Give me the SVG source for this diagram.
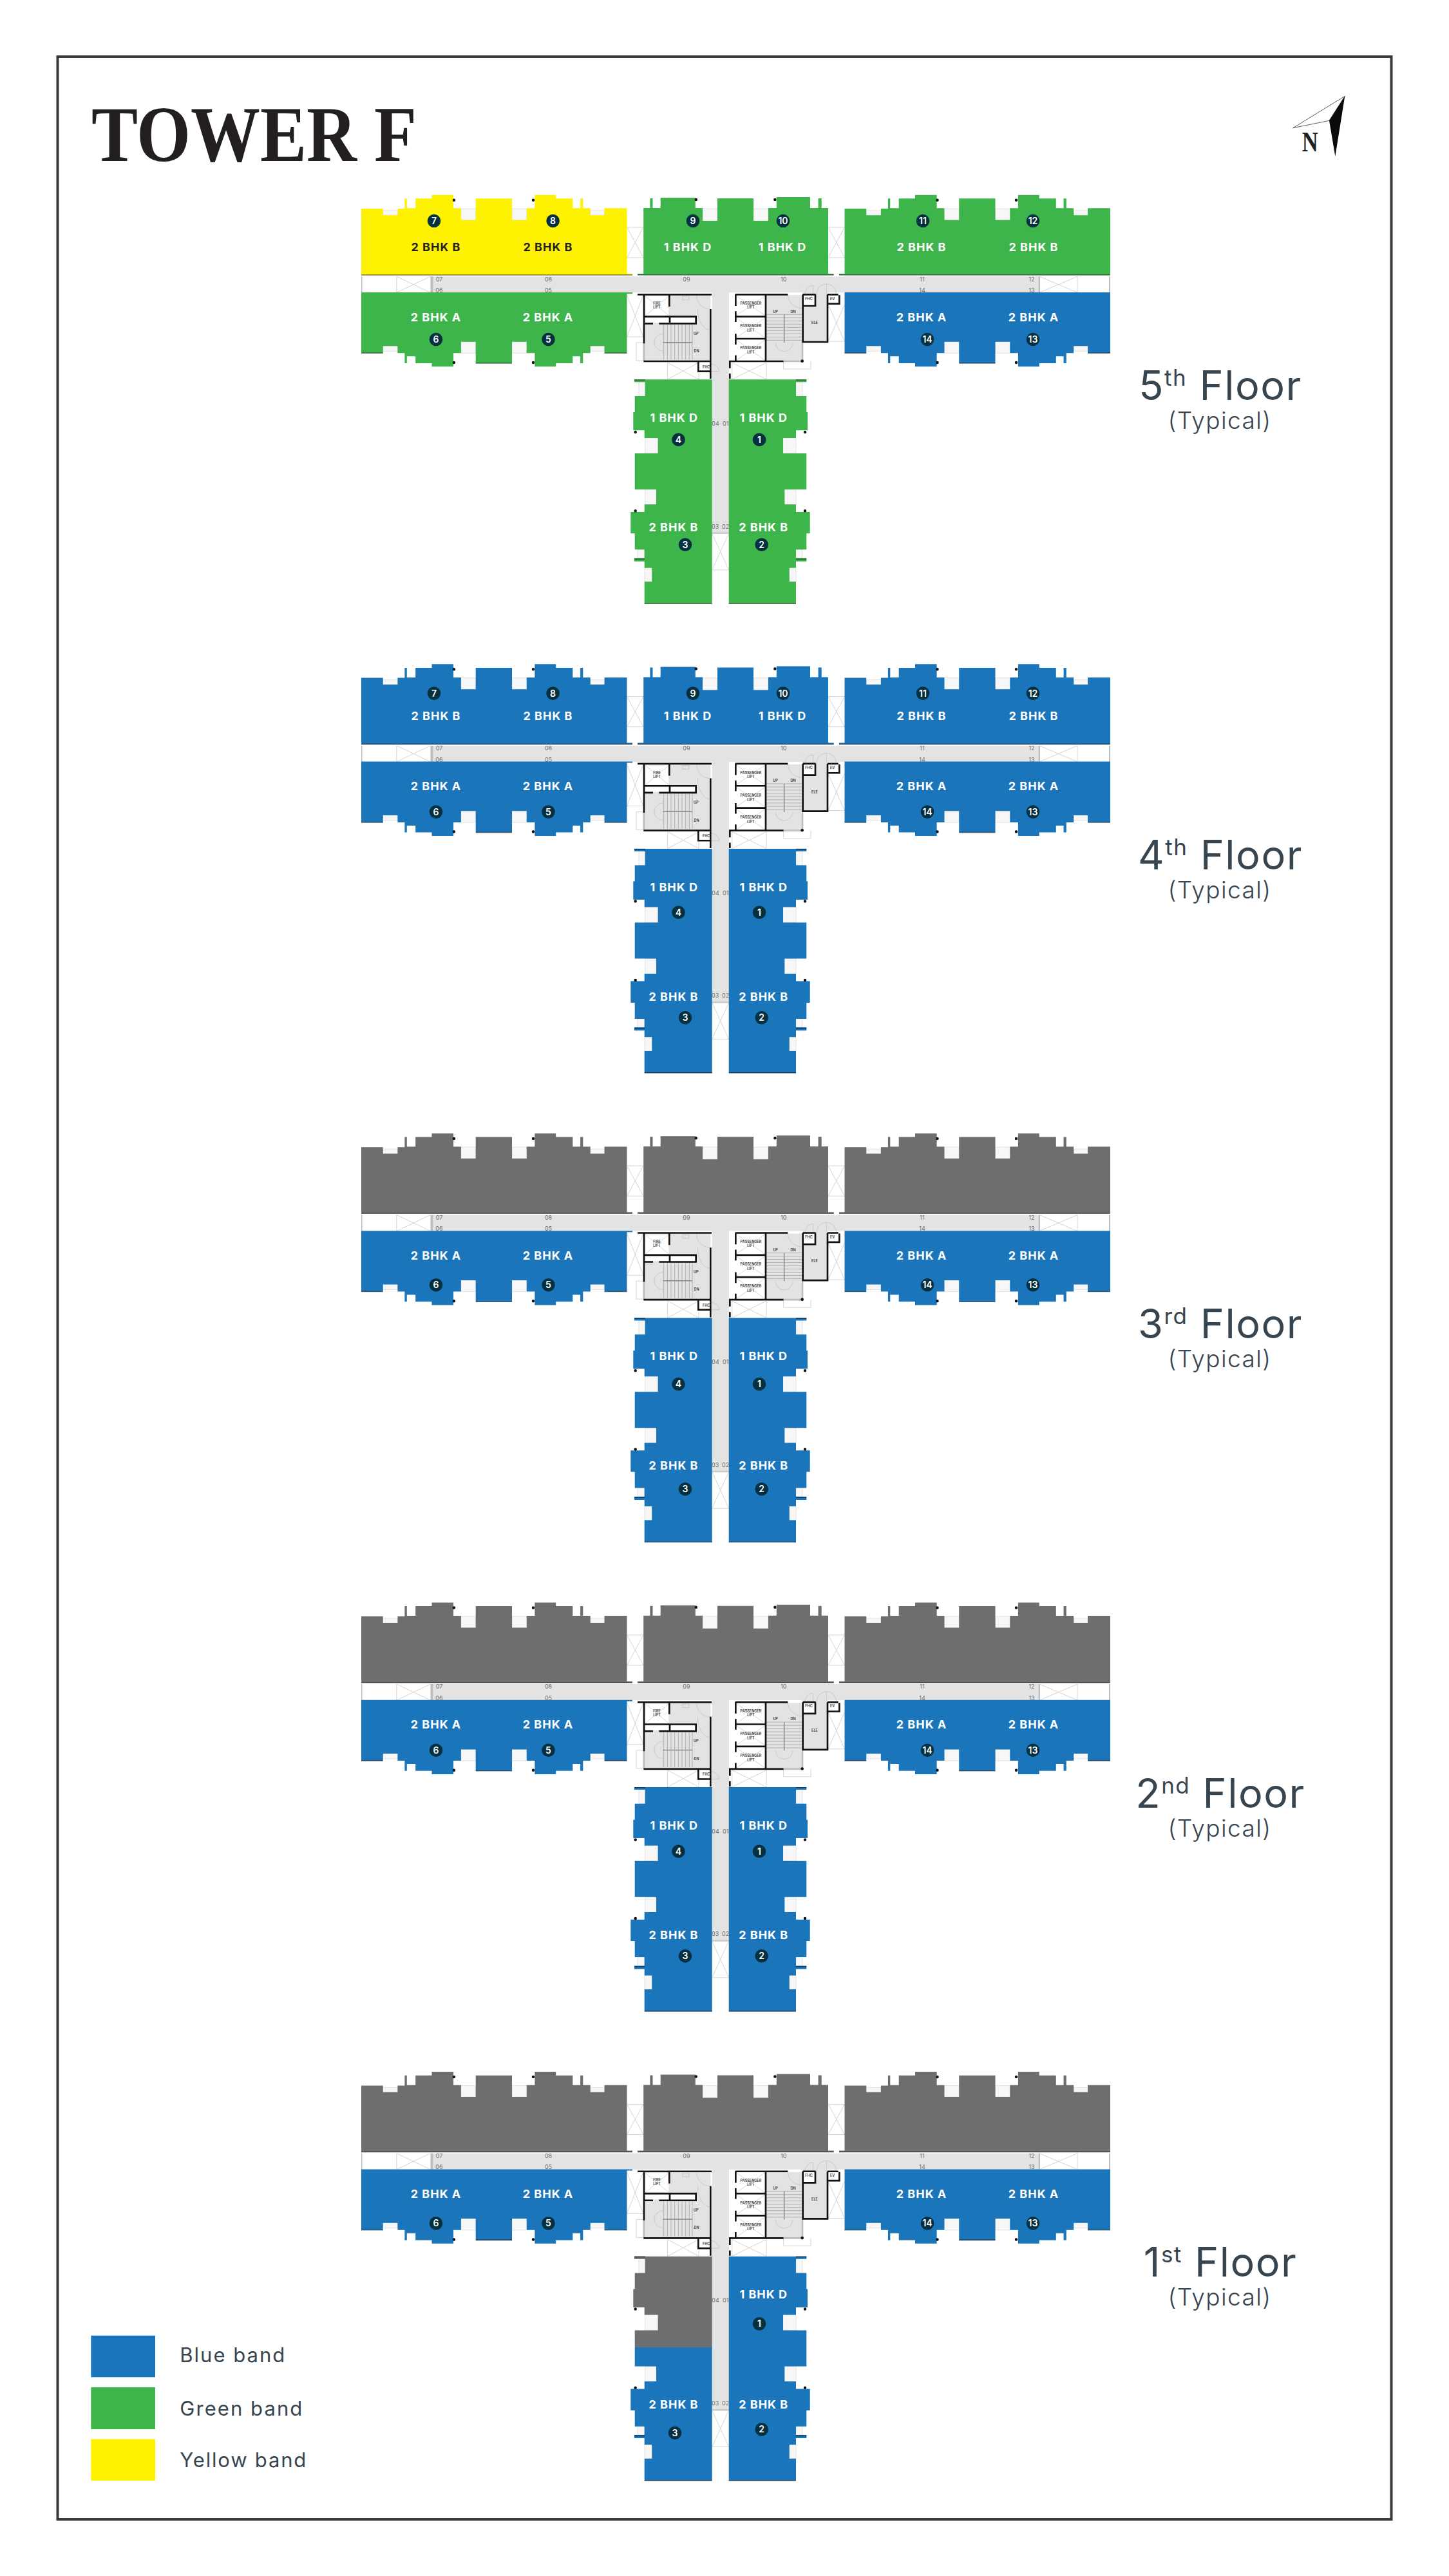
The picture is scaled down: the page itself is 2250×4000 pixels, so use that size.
<svg xmlns="http://www.w3.org/2000/svg" width="2250" height="4000" viewBox="0 0 2250 4000">
<style>
text{font-family:Inter,"Noto Sans","Liberation Sans",sans-serif}
.b{fill:#1a75bb}.g{fill:#3db54a}.y{fill:#fff200}.k{fill:#6d6e70}
.u{fill:#fff;font-size:18px;font-weight:700;letter-spacing:1px;text-anchor:middle}
.ud{fill:#231f20;font-size:18px;font-weight:700;letter-spacing:1px;text-anchor:middle}
.c{fill:#05303f}
.n{fill:#fff;font-size:14px;font-weight:600;text-anchor:middle}
.d{fill:#6f6f6f;font-size:9px;text-anchor:middle}
.m{fill:#333;font-size:5.5px;font-weight:600;text-anchor:middle}
.f{fill:#36454f;font-size:63px;letter-spacing:1.5px;text-anchor:middle}
.fs{font-size:35px}
.fn{fill:#36454f;font-size:37px;font-weight:300;letter-spacing:1.4px;text-anchor:middle}
.l{fill:#36454f;font-size:31px}
.thin{fill:none;stroke:#d4d4d4;stroke-width:1}
.wall{fill:none;stroke:#111;stroke-width:8}
.cthin{fill:none;stroke:#b4b4b4;stroke-width:1.6}
.cdark{fill:none;stroke:#8f8f8f;stroke-width:1.8}
.cg{fill:#e3e3e4}
</style>
<defs>
<path id="wTL" d="M561 427V324H594.7V334.3H617.4V324H628.4V308.3H631.8V323.3H645.2V308.3H670.5V302.7H704.1V323.3H715.9V341.7H738.7V308.3H795V341.7H817.8V323.3H830.4V302.7H863.2V308.3H889.3V323.3H901.1V308.3H905.3V323.3H916.7V334.3H938.6V323.3H973.5V425H982V427Z"/>
<path id="wTC" d="M990 427V425H999.2V323H1009.4V308H1013.5V323H1025.7V307H1079.8V323H1091V343H1114V308H1170V343H1193V323H1205.8V306H1258V308H1258V323H1270.6V308H1275.7V323H1286V425H1294.7V427Z"/>
<path id="wTR" d="M1303 427V425H1311.5V324H1345.2V334.3H1367.9V324H1378.9V308.3H1382.3V323.3H1395.7V308.3H1421V302.7H1454.6V323.3H1466.4V341.7H1489.2V308.3H1545.5V341.7H1568.3V323.3H1580.9V302.7H1613.7V308.3H1639.8V323.3H1651.6V308.3H1655.8V323.3H1667.2V334.3H1689.1V323.3H1724V427Z"/>
<path id="wBL" d="M561 454H982V456H973.5V548.3H938.6V537.3H916.7V548.3H905.3V564H901.1V553.3H889.3V564H863.2V569.3H830.4V548.3H817.8V530.7H795V564H738.7V530.7H715.9V548.3H704.1V569.3H670.5V564H645.2V553.3H631.8V564H628.4V548.3H617.4V537.3H594.7V548.3H561Z"/>
<path id="wBR" d="M1311.5 454H1724V548.3H1689.1V537.3H1667.2V548.3H1655.8V564H1651.6V553.3H1639.8V564H1613.7V569.3H1580.9V548.3H1568.3V530.7H1545.5V564H1489.2V530.7H1466.4V548.3H1454.6V569.3H1421V564H1395.7V553.3H1382.3V564H1378.9V548.3H1367.9V537.3H1345.2V548.3H1311.5Z"/>
<path id="wSL" d="M985 589.3H1105.7V937.3H1000.7V903.3H1012.3V881.7H1000.7V871.7H985V866.7H1000.7V853.3H985.7V828.3H979.3V795H1000.7V783.3H1019V760H985.7V704H1021.7V680H1000.7V668.3H983.3V640H985.7V615H1001.7V593.3H985Z"/>
<path id="wSR" d="M1131.7 589.3H1252.3V593.3H1236V615H1252.3V640H1254V668.3H1236V680H1216V704H1252.3V760H1218.3V783.3H1236V795H1257.7V828.3H1252.3V853.3H1236V866.7H1252.3V871.7H1236V881.7H1225.7V903.3H1236V937.3H1131.7Z"/>
<path id="wSLa" d="M985 589.3H1105.7V730.7H985.7V704H1021.7V680H1000.7V668.3H983.3V640H985.7V615H1001.7V593.3H985Z"/>
<path id="wSLb" d="M985.7 730.7H1105.7V937.3H1000.7V903.3H1012.3V881.7H1000.7V871.7H985V866.7H1000.7V853.3H985.7V828.3H979.3V795H1000.7V783.3H1019V760H985.7Z"/>
<g id="plan">
<path d="M672.6 429.3H1612.5V454.3H1132V828.3H1105.7V454.3H672.6Z" class="cg"/>
<path d="M668.5 429.3h4.1v25h-4.1zM1612.5 429.3h2.5v25h-2.5zM561 429.3h1.5v25H561zM1722 429.3h2v25h-2z" fill="#bdbdbd"/>
<rect x="1105.7" y="826.5" width="26.3" height="2.5" fill="#c9c9c9"/>
<path class="thin" d="M615.8 429.3V454.3M615.8 429.3L668.4 454.3M668.4 429.3L615.8 454.3M1614 429.3L1673 454.3M1673 429.3L1614 454.3M1673 429.3V454.3M973.5 353H999M973.5 400H999M973.5 353L999 400M999 353L973.5 400M1286 353H1311.5M1286 400H1311.5M1286 353L1311.5 400M1311.5 353L1286 400M973.5 458L999 523M999 458L973.5 523M973.5 523H999M1286 473L1311.5 530M1311.5 473L1286 530M1280 530H1311.5M988 532H999V560H988ZM1036.7 563V589M1085 563V589M1036.7 563L1085 589M1085 563L1036.7 589M1136.7 563V589M1190 563V589M1136.7 563L1190 589M1190 563L1136.7 589M1216.7 561V573H1259V561M1105.7 828.3L1131.7 885M1131.7 828.3L1105.7 885M1105.7 885H1131.7"/>
<path fill="#f7f7f7" stroke="#dcdcdc" stroke-width=".8" d="M594.7 327h22.7v7.3h-22.7zM715.9 324h22.8v17.7h-22.8zM795 324h22.8v17.7H795zM916.7 327h21.9v7.3h-21.9zM1345.2 327h22.7v7.3h-22.7zM1466.4 324h22.8v17.7h-22.8zM1545.5 324h22.8v17.7h-22.8zM1667.2 327h21.9v7.3h-21.9zM1091 324h23v19h-23zM1170 324h23v19h-23zM594.7 537.3h22.7v8h-22.7zM715.9 530.7h22.8v17.7h-22.8zM795 530.7h22.8v17.7H795zM916.7 537.3h21.9v8h-21.9zM1345.2 537.3h22.7v8h-22.7zM1466.4 530.7h22.8v17.7h-22.8zM1545.5 530.7h22.8v17.7h-22.8zM1667.2 537.3h21.9v8h-21.9zM1001.7 680h20v24h-20zM1001.7 760h17.3v23.3h-17.3zM1001 881.7h11.3v21.6H1001zM992 593.3h9.7v21.7H992zM1216 680h20v24h-20zM1218.3 760h17.7v23.3h-17.7zM1225.7 881.7h10.3v21.6h-10.3zM1236 593.3h10v21.7h-10zM990 853.3h10.7v13.4H990zM1236 853.3h10v13.4h-10z"/>
<g transform="translate(990 425) scale(.33333)">
<path class="cg" d="M30 100H340V405H30ZM600 100H768V405H600ZM768 50H885V315H770Z"/>
<rect x="37" y="105" width="108" height="90" fill="#fff"/>
<rect x="37" y="206" width="232" height="22" fill="#fff"/>
<rect x="460" y="103" width="134" height="92" fill="#fff"/>
<rect x="460" y="206" width="134" height="92" fill="#fff"/>
<rect x="460" y="308" width="134" height="96" fill="#fff"/>
<rect x="775" y="100" width="50" height="48" fill="#fff"/>
<rect x="889" y="100" width="46" height="38" fill="#fff"/>
<rect x="287" y="415" width="53" height="38" fill="#fff"/>
<path class="cthin" d="M37 105L145 195M145 105L37 195M460 103L594 195M594 103L460 195M460 206L594 298M594 206L460 298M460 308L594 404M594 308L460 404"/>
<path class="cdark" d="M122 237V400M139 237V400M156 237V400M173 237V400M190 237V400M207 237V400M224 237V400M241 237V400M255 237V400M600 190H765M600 205H765M600 220H765M600 235H765M600 250H765M600 265H765M600 280H765M600 295H765M600 310H765"/>
<path class="cthin" d="M78 320A40 40 0 0 1 118 280M78 320A40 40 0 0 0 118 360M275 100A63 63 0 0 0 338 165M280 165A60 95 0 0 0 335 262M643 322A40 40 0 0 0 723 322M700 97A70 65 0 0 0 768 162M780 95A38 40 0 0 1 818 55V95M835 95A45 45 0 0 1 880 48M880 48A45 45 0 0 1 925 95M880 48V95M340 420A40 35 0 0 1 380 455H340M210 105H240V122H210Z"/>
<path d="M118 320H255M683 190V322" fill="none" stroke="#8a8a8a" stroke-width="4.5"/>
<path d="M30 325V405M680 408H765M768 320V405" fill="none" stroke="#bdbdbd" stroke-width="8"/>
<path class="wall" d="M0 97H345M30 97V325M148 97V153M30 200H272V232H100M30 232H72M150 200V232M340 165V490M28 408H340M283 408V455H340M455 97H700M457 97V150M457 175V225M457 280V330M457 380V405M597 97V408M457 200H597M457 303H597M430 440V408H680M430 465V490M770 97V318H885V97M770 150H828V97M770 97H830M885 140H940V100M885 97H935"/>
<circle cx="767" cy="407" r="7" fill="#111"/>
</g>
</g>
<g id="edges">
<path d="M561 427H982M990 427H1294.7M1303 427H1724M561 548.3H594.7M938.6 548.3H973.5M1311.5 548.3H1345.2M1689.1 548.3H1724M738.7 564H795M1489.2 564H1545.5M985 590H1001.7M1236 590H1252.3M985 868H1001M1236 868H1252.3M1000.7 937.3H1105.7M1131.7 937.3H1236" fill="none" stroke="#000" stroke-opacity=".5" stroke-width="1.6"/>
<path d="M705 310.7h.01M828 310.7h.01M1080.8 310h.01M1203.4 310h.01M1455.5 310.7h.01M1578 310.7h.01M705 563h.01M828 563h.01M1455.5 563h.01M1578 563h.01M986.7 671h.01M1250 671h.01M986.7 793.3h.01M1250 793.3h.01" stroke="#111" stroke-width="4.5" stroke-linecap="round"/>
</g>
</defs>
<rect width="2250" height="4000" fill="#fff"/>
<rect id="frame" x="89.5" y="88" width="2071" height="3824" fill="none" stroke="#3a3839" stroke-width="4"/>
<text id="title" x="142" y="250" font-size="122" font-weight="700" textLength="505" lengthAdjust="spacingAndGlyphs" fill="#231f20" style="font-family:'Liberation Serif',serif">TOWER F</text>
<g id="north">
<path d="M2088.3 149.3L2007.7 198.7L2064 187.3Z" fill="#fff" stroke="#333" stroke-width=".8"/>
<path d="M2088.3 149.3L2064 187.3L2073.3 242.7Z" fill="#0a0a0a"/>
<text x="2021.7" y="235" font-size="44" font-weight="700" textLength="25" lengthAdjust="spacingAndGlyphs" fill="#231f20" style="font-family:'Liberation Serif',serif">N</text>
</g>

<g id="floor-5">
<use href="#plan"/>
<use href="#wTL" class="y"/><use href="#wTC" class="g"/><use href="#wTR" class="g"/><use href="#wBL" class="g"/><use href="#wBR" class="b"/><use href="#wSL" class="g"/><use href="#wSR" class="g"/>
<use href="#edges"/>
<text class="d" x="682" y="436.5">07</text><text class="d" x="851.5" y="436.5">08</text><text class="d" x="1066" y="436.5">09</text><text class="d" x="1216.8" y="436.5">10</text><text class="d" x="1432" y="436.5">11</text><text class="d" x="1602" y="436.5">12</text>
<text class="d" x="682" y="454">06</text><text class="d" x="851.5" y="454">05</text><text class="d" x="1432" y="454">14</text><text class="d" x="1602" y="454">13</text>
<text class="d" x="1111" y="661">04</text><text class="d" x="1126.7" y="661">01</text><text class="d" x="1110.7" y="820.5">03</text><text class="d" x="1126.7" y="820.5">02</text>
<text class="m" x="1020" y="473">FIRE</text><text class="m" x="1020" y="479">LIFT</text><text class="m" x="1166" y="473.3">PASSENGER</text><text class="m" x="1166" y="479.3">LIFT</text><text class="m" x="1166" y="508.3">PASSENGER</text><text class="m" x="1166" y="515">LIFT</text><text class="m" x="1166" y="542.3">PASSENGER</text><text class="m" x="1166" y="549">LIFT</text><text class="m" x="1080.7" y="519.7">UP</text><text class="m" x="1081.7" y="547">DN</text><text class="m" x="1204" y="485.7">UP</text><text class="m" x="1231.7" y="485.7">DN</text><text class="m" x="1265" y="503">ELE</text><text class="m" x="1096.7" y="571.7">FHC</text><text class="m" x="1256" y="465.7">FHC</text><text class="m" x="1292.7" y="465.7">EV</text>
<text class="ud" x="677" y="389.5">2 BHK B</text><text class="ud" x="851" y="389.5">2 BHK B</text><text class="u" x="1068" y="389.5">1 BHK D</text><text class="u" x="1215" y="389.5">1 BHK D</text><text class="u" x="1431" y="389.5">2 BHK B</text><text class="u" x="1605" y="389.5">2 BHK B</text>
<text class="u" x="677" y="498.7">2 BHK A</text><text class="u" x="851" y="498.7">2 BHK A</text><text class="u" x="1431" y="498.7">2 BHK A</text><text class="u" x="1605" y="498.7">2 BHK A</text>
<text class="u" x="1046.7" y="655">1 BHK D</text><text class="u" x="1185.7" y="655">1 BHK D</text><text class="u" x="1046" y="825.3">2 BHK B</text><text class="u" x="1185.7" y="825.3">2 BHK B</text>
<circle class="c" cx="674" cy="343" r="10.3"/><text class="n" x="674" y="348">7</text><circle class="c" cx="858.6" cy="343" r="10.3"/><text class="n" x="858.6" y="348">8</text><circle class="c" cx="1076" cy="343" r="10.3"/><text class="n" x="1076" y="348">9</text><circle class="c" cx="1216" cy="343" r="10.3"/><text class="n" x="1216" y="348">10</text><circle class="c" cx="1433" cy="343" r="10.3"/><text class="n" x="1433" y="348">11</text><circle class="c" cx="1604" cy="343" r="10.3"/><text class="n" x="1604" y="348">12</text>
<circle class="c" cx="677" cy="527" r="10.3"/><text class="n" x="677" y="532">6</text><circle class="c" cx="851.5" cy="527" r="10.3"/><text class="n" x="851.5" y="532">5</text><circle class="c" cx="1440" cy="527" r="10.3"/><text class="n" x="1440" y="532">14</text><circle class="c" cx="1604" cy="527" r="10.3"/><text class="n" x="1604" y="532">13</text>
<circle class="c" cx="1053.5" cy="682.7" r="10.3"/><text class="n" x="1053.5" y="687.7">4</text><circle class="c" cx="1179" cy="682.7" r="10.3"/><text class="n" x="1179" y="687.7">1</text><circle class="c" cx="1064" cy="845.7" r="10.3"/><text class="n" x="1064" y="850.7">3</text><circle class="c" cx="1182.7" cy="845.7" r="10.3"/><text class="n" x="1182.7" y="850.7">2</text>
<text class="f" x="1895" y="621">5<tspan class="fs" dy="-22">th</tspan><tspan dy="22"> Floor</tspan></text><text class="fn" x="1894" y="666">(Typical)</text>
</g>

<g id="floor-4" transform="translate(0 728.6)">
<use href="#plan"/>
<use href="#wTL" class="b"/><use href="#wTC" class="b"/><use href="#wTR" class="b"/><use href="#wBL" class="b"/><use href="#wBR" class="b"/><use href="#wSL" class="b"/><use href="#wSR" class="b"/>
<use href="#edges"/>
<text class="d" x="682" y="436.5">07</text><text class="d" x="851.5" y="436.5">08</text><text class="d" x="1066" y="436.5">09</text><text class="d" x="1216.8" y="436.5">10</text><text class="d" x="1432" y="436.5">11</text><text class="d" x="1602" y="436.5">12</text>
<text class="d" x="682" y="454">06</text><text class="d" x="851.5" y="454">05</text><text class="d" x="1432" y="454">14</text><text class="d" x="1602" y="454">13</text>
<text class="d" x="1111" y="661">04</text><text class="d" x="1126.7" y="661">01</text><text class="d" x="1110.7" y="820.5">03</text><text class="d" x="1126.7" y="820.5">02</text>
<text class="m" x="1020" y="473">FIRE</text><text class="m" x="1020" y="479">LIFT</text><text class="m" x="1166" y="473.3">PASSENGER</text><text class="m" x="1166" y="479.3">LIFT</text><text class="m" x="1166" y="508.3">PASSENGER</text><text class="m" x="1166" y="515">LIFT</text><text class="m" x="1166" y="542.3">PASSENGER</text><text class="m" x="1166" y="549">LIFT</text><text class="m" x="1080.7" y="519.7">UP</text><text class="m" x="1081.7" y="547">DN</text><text class="m" x="1204" y="485.7">UP</text><text class="m" x="1231.7" y="485.7">DN</text><text class="m" x="1265" y="503">ELE</text><text class="m" x="1096.7" y="571.7">FHC</text><text class="m" x="1256" y="465.7">FHC</text><text class="m" x="1292.7" y="465.7">EV</text>
<text class="u" x="677" y="389.5">2 BHK B</text><text class="u" x="851" y="389.5">2 BHK B</text><text class="u" x="1068" y="389.5">1 BHK D</text><text class="u" x="1215" y="389.5">1 BHK D</text><text class="u" x="1431" y="389.5">2 BHK B</text><text class="u" x="1605" y="389.5">2 BHK B</text>
<text class="u" x="677" y="498.7">2 BHK A</text><text class="u" x="851" y="498.7">2 BHK A</text><text class="u" x="1431" y="498.7">2 BHK A</text><text class="u" x="1605" y="498.7">2 BHK A</text>
<text class="u" x="1046.7" y="655">1 BHK D</text><text class="u" x="1185.7" y="655">1 BHK D</text><text class="u" x="1046" y="825.3">2 BHK B</text><text class="u" x="1185.7" y="825.3">2 BHK B</text>
<circle class="c" cx="674" cy="348" r="10.3"/><text class="n" x="674" y="353">7</text><circle class="c" cx="858.6" cy="348" r="10.3"/><text class="n" x="858.6" y="353">8</text><circle class="c" cx="1076" cy="348" r="10.3"/><text class="n" x="1076" y="353">9</text><circle class="c" cx="1216" cy="348" r="10.3"/><text class="n" x="1216" y="353">10</text><circle class="c" cx="1433" cy="348" r="10.3"/><text class="n" x="1433" y="353">11</text><circle class="c" cx="1604" cy="348" r="10.3"/><text class="n" x="1604" y="353">12</text>
<circle class="c" cx="677" cy="532" r="10.3"/><text class="n" x="677" y="537">6</text><circle class="c" cx="851.5" cy="532" r="10.3"/><text class="n" x="851.5" y="537">5</text><circle class="c" cx="1440" cy="532" r="10.3"/><text class="n" x="1440" y="537">14</text><circle class="c" cx="1604" cy="532" r="10.3"/><text class="n" x="1604" y="537">13</text>
<circle class="c" cx="1053.5" cy="688.2" r="10.3"/><text class="n" x="1053.5" y="693.2">4</text><circle class="c" cx="1179" cy="688.2" r="10.3"/><text class="n" x="1179" y="693.2">1</text><circle class="c" cx="1064" cy="851.7" r="10.3"/><text class="n" x="1064" y="856.7">3</text><circle class="c" cx="1182.7" cy="851.7" r="10.3"/><text class="n" x="1182.7" y="856.7">2</text>
<text class="f" x="1895" y="621">4<tspan class="fs" dy="-22">th</tspan><tspan dy="22"> Floor</tspan></text><text class="fn" x="1894" y="666">(Typical)</text>
</g>

<g id="floor-3" transform="translate(0 1457.2)">
<use href="#plan"/>
<use href="#wTL" class="k"/><use href="#wTC" class="k"/><use href="#wTR" class="k"/><use href="#wBL" class="b"/><use href="#wBR" class="b"/><use href="#wSL" class="b"/><use href="#wSR" class="b"/>
<use href="#edges"/>
<text class="d" x="682" y="436.5">07</text><text class="d" x="851.5" y="436.5">08</text><text class="d" x="1066" y="436.5">09</text><text class="d" x="1216.8" y="436.5">10</text><text class="d" x="1432" y="436.5">11</text><text class="d" x="1602" y="436.5">12</text>
<text class="d" x="682" y="454">06</text><text class="d" x="851.5" y="454">05</text><text class="d" x="1432" y="454">14</text><text class="d" x="1602" y="454">13</text>
<text class="d" x="1111" y="661">04</text><text class="d" x="1126.7" y="661">01</text><text class="d" x="1110.7" y="820.5">03</text><text class="d" x="1126.7" y="820.5">02</text>
<text class="m" x="1020" y="473">FIRE</text><text class="m" x="1020" y="479">LIFT</text><text class="m" x="1166" y="473.3">PASSENGER</text><text class="m" x="1166" y="479.3">LIFT</text><text class="m" x="1166" y="508.3">PASSENGER</text><text class="m" x="1166" y="515">LIFT</text><text class="m" x="1166" y="542.3">PASSENGER</text><text class="m" x="1166" y="549">LIFT</text><text class="m" x="1080.7" y="519.7">UP</text><text class="m" x="1081.7" y="547">DN</text><text class="m" x="1204" y="485.7">UP</text><text class="m" x="1231.7" y="485.7">DN</text><text class="m" x="1265" y="503">ELE</text><text class="m" x="1096.7" y="571.7">FHC</text><text class="m" x="1256" y="465.7">FHC</text><text class="m" x="1292.7" y="465.7">EV</text>
<text class="u" x="677" y="498.7">2 BHK A</text><text class="u" x="851" y="498.7">2 BHK A</text><text class="u" x="1431" y="498.7">2 BHK A</text><text class="u" x="1605" y="498.7">2 BHK A</text>
<text class="u" x="1046.7" y="655">1 BHK D</text><text class="u" x="1185.7" y="655">1 BHK D</text><text class="u" x="1046" y="825.3">2 BHK B</text><text class="u" x="1185.7" y="825.3">2 BHK B</text>
<circle class="c" cx="677" cy="538" r="10.3"/><text class="n" x="677" y="543">6</text><circle class="c" cx="851.5" cy="538" r="10.3"/><text class="n" x="851.5" y="543">5</text><circle class="c" cx="1440" cy="538" r="10.3"/><text class="n" x="1440" y="543">14</text><circle class="c" cx="1604" cy="538" r="10.3"/><text class="n" x="1604" y="543">13</text>
<circle class="c" cx="1053.5" cy="692" r="10.3"/><text class="n" x="1053.5" y="697">4</text><circle class="c" cx="1179" cy="692" r="10.3"/><text class="n" x="1179" y="697">1</text><circle class="c" cx="1064" cy="855" r="10.3"/><text class="n" x="1064" y="860">3</text><circle class="c" cx="1182.7" cy="855" r="10.3"/><text class="n" x="1182.7" y="860">2</text>
<text class="f" x="1895" y="621">3<tspan class="fs" dy="-22">rd</tspan><tspan dy="22"> Floor</tspan></text><text class="fn" x="1894" y="666">(Typical)</text>
</g>

<g id="floor-2" transform="translate(0 2185.8)">
<use href="#plan"/>
<use href="#wTL" class="k"/><use href="#wTC" class="k"/><use href="#wTR" class="k"/><use href="#wBL" class="b"/><use href="#wBR" class="b"/><use href="#wSL" class="b"/><use href="#wSR" class="b"/>
<use href="#edges"/>
<text class="d" x="682" y="436.5">07</text><text class="d" x="851.5" y="436.5">08</text><text class="d" x="1066" y="436.5">09</text><text class="d" x="1216.8" y="436.5">10</text><text class="d" x="1432" y="436.5">11</text><text class="d" x="1602" y="436.5">12</text>
<text class="d" x="682" y="454">06</text><text class="d" x="851.5" y="454">05</text><text class="d" x="1432" y="454">14</text><text class="d" x="1602" y="454">13</text>
<text class="d" x="1111" y="661">04</text><text class="d" x="1126.7" y="661">01</text><text class="d" x="1110.7" y="820.5">03</text><text class="d" x="1126.7" y="820.5">02</text>
<text class="m" x="1020" y="473">FIRE</text><text class="m" x="1020" y="479">LIFT</text><text class="m" x="1166" y="473.3">PASSENGER</text><text class="m" x="1166" y="479.3">LIFT</text><text class="m" x="1166" y="508.3">PASSENGER</text><text class="m" x="1166" y="515">LIFT</text><text class="m" x="1166" y="542.3">PASSENGER</text><text class="m" x="1166" y="549">LIFT</text><text class="m" x="1080.7" y="519.7">UP</text><text class="m" x="1081.7" y="547">DN</text><text class="m" x="1204" y="485.7">UP</text><text class="m" x="1231.7" y="485.7">DN</text><text class="m" x="1265" y="503">ELE</text><text class="m" x="1096.7" y="571.7">FHC</text><text class="m" x="1256" y="465.7">FHC</text><text class="m" x="1292.7" y="465.7">EV</text>
<text class="u" x="677" y="498.7">2 BHK A</text><text class="u" x="851" y="498.7">2 BHK A</text><text class="u" x="1431" y="498.7">2 BHK A</text><text class="u" x="1605" y="498.7">2 BHK A</text>
<text class="u" x="1046.7" y="655">1 BHK D</text><text class="u" x="1185.7" y="655">1 BHK D</text><text class="u" x="1046" y="825.3">2 BHK B</text><text class="u" x="1185.7" y="825.3">2 BHK B</text>
<circle class="c" cx="677" cy="532" r="10.3"/><text class="n" x="677" y="537">6</text><circle class="c" cx="851.5" cy="532" r="10.3"/><text class="n" x="851.5" y="537">5</text><circle class="c" cx="1440" cy="532" r="10.3"/><text class="n" x="1440" y="537">14</text><circle class="c" cx="1604" cy="532" r="10.3"/><text class="n" x="1604" y="537">13</text>
<circle class="c" cx="1053.5" cy="689" r="10.3"/><text class="n" x="1053.5" y="694">4</text><circle class="c" cx="1179" cy="689" r="10.3"/><text class="n" x="1179" y="694">1</text><circle class="c" cx="1064" cy="851.5" r="10.3"/><text class="n" x="1064" y="856.5">3</text><circle class="c" cx="1182.7" cy="851.5" r="10.3"/><text class="n" x="1182.7" y="856.5">2</text>
<text class="f" x="1895" y="621">2<tspan class="fs" dy="-22">nd</tspan><tspan dy="22"> Floor</tspan></text><text class="fn" x="1894" y="666">(Typical)</text>
</g>

<g id="floor-1" transform="translate(0 2914.4)">
<use href="#plan"/>
<use href="#wTL" class="k"/><use href="#wTC" class="k"/><use href="#wTR" class="k"/><use href="#wBL" class="b"/><use href="#wBR" class="b"/><use href="#wSLa" class="k"/><use href="#wSLb" class="b"/><use href="#wSR" class="b"/>
<use href="#edges"/>
<text class="d" x="682" y="436.5">07</text><text class="d" x="851.5" y="436.5">08</text><text class="d" x="1066" y="436.5">09</text><text class="d" x="1216.8" y="436.5">10</text><text class="d" x="1432" y="436.5">11</text><text class="d" x="1602" y="436.5">12</text>
<text class="d" x="682" y="454">06</text><text class="d" x="851.5" y="454">05</text><text class="d" x="1432" y="454">14</text><text class="d" x="1602" y="454">13</text>
<text class="d" x="1111" y="661">04</text><text class="d" x="1126.7" y="661">01</text><text class="d" x="1110.7" y="820.5">03</text><text class="d" x="1126.7" y="820.5">02</text>
<text class="m" x="1020" y="473">FIRE</text><text class="m" x="1020" y="479">LIFT</text><text class="m" x="1166" y="473.3">PASSENGER</text><text class="m" x="1166" y="479.3">LIFT</text><text class="m" x="1166" y="508.3">PASSENGER</text><text class="m" x="1166" y="515">LIFT</text><text class="m" x="1166" y="542.3">PASSENGER</text><text class="m" x="1166" y="549">LIFT</text><text class="m" x="1080.7" y="519.7">UP</text><text class="m" x="1081.7" y="547">DN</text><text class="m" x="1204" y="485.7">UP</text><text class="m" x="1231.7" y="485.7">DN</text><text class="m" x="1265" y="503">ELE</text><text class="m" x="1096.7" y="571.7">FHC</text><text class="m" x="1256" y="465.7">FHC</text><text class="m" x="1292.7" y="465.7">EV</text>
<text class="u" x="677" y="498.7">2 BHK A</text><text class="u" x="851" y="498.7">2 BHK A</text><text class="u" x="1431" y="498.7">2 BHK A</text><text class="u" x="1605" y="498.7">2 BHK A</text>
<text class="u" x="1185.7" y="655">1 BHK D</text><text class="u" x="1046" y="825.3">2 BHK B</text><text class="u" x="1185.7" y="825.3">2 BHK B</text>
<circle class="c" cx="677" cy="538" r="10.3"/><text class="n" x="677" y="543">6</text><circle class="c" cx="851.5" cy="538" r="10.3"/><text class="n" x="851.5" y="543">5</text><circle class="c" cx="1440" cy="538" r="10.3"/><text class="n" x="1440" y="543">14</text><circle class="c" cx="1604" cy="538" r="10.3"/><text class="n" x="1604" y="543">13</text>
<circle class="c" cx="1179" cy="694" r="10.3"/><text class="n" x="1179" y="699">1</text><circle class="c" cx="1048" cy="863.3" r="10.3"/><text class="n" x="1048" y="868.3">3</text><circle class="c" cx="1182.7" cy="858" r="10.3"/><text class="n" x="1182.7" y="863">2</text>
<text class="f" x="1895" y="621">1<tspan class="fs" dy="-22">st</tspan><tspan dy="22"> Floor</tspan></text><text class="fn" x="1894" y="666">(Typical)</text>
</g>

<g id="legend">
<rect class="b" x="141.3" y="3626.7" width="99.7" height="64.6"/>
<rect class="g" x="141.3" y="3707" width="99.7" height="65"/>
<rect class="y" x="141.3" y="3787.3" width="99.7" height="64.7"/>
<text class="l" x="279.3" y="3668" textLength="163">Blue band</text>
<text class="l" x="279.3" y="3750.7" textLength="190">Green band</text>
<text class="l" x="279.3" y="3830.7" textLength="196">Yellow band</text>
</g>
</svg>
